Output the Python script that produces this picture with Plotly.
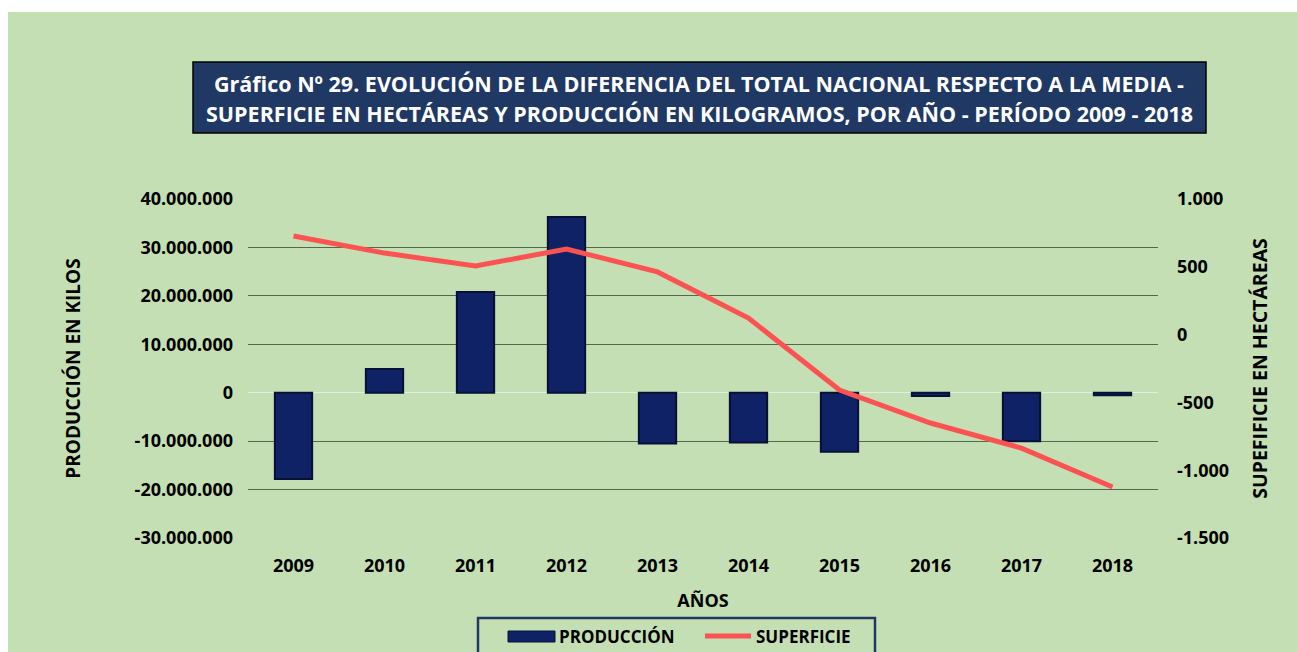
import plotly.graph_objects as go

# data
years = ["2009", "2010", "2011", "2012", "2013", "2014", "2015", "2016", "2017", "2018"]
produccion = [-17800000, 4900000, 20800000, 36300000, -10500000, -10300000, -12200000, -700000, -10000000, -500000]
superficie = [727, 601, 506, 631, 462, 122, -409, -652, -837, -1124]

left_ticks = [-30000000, -20000000, -10000000, 0, 10000000, 20000000, 30000000, 40000000]
left_labels = ["-30.000.000", "-20.000.000", "-10.000.000", "0", "10.000.000", "20.000.000", "30.000.000", "40.000.000"]
right_ticks = [-1500, -1000, -500, 0, 500, 1000]
right_labels = ["-1.500", "-1.000", "-500", "0", "500", "1.000"]

title_1 = "Gráfico Nº 29. EVOLUCIÓN DE LA DIFERENCIA DEL TOTAL NACIONAL RESPECTO A LA MEDIA -"
title_2 = "SUPERFICIE EN HECTÁREAS Y PRODUCCIÓN EN KILOGRAMOS, POR AÑO - PERÍODO 2009 - 2018"

GREEN = "#c5dfb4"
NAVY = "#1f3864"
BAR = "#102266"
BAR_EDGE = "#071036"
RED = "#fc5252"
FONT = "Open Sans"

fig = go.Figure()

fig.add_trace(go.Bar(
    x=years, y=produccion, name="PRODUCCIÓN",
    marker=dict(color=BAR, line=dict(color=BAR_EDGE, width=2)),
    width=0.41
))

fig.add_trace(go.Scatter(
    x=years, y=superficie, name="SUPERFICIE", yaxis="y2",
    mode="lines", line=dict(color=RED, width=5)
))

# plot area in pixels: x 248..1158, y 199..538
W, H = 1297, 652
L, R, T, B = 248, 1158, 199, 538
def px(x):
    return (x - L) / (R - L)
def py(y):
    return (B - y) / (B - T)

shapes = [
    # white strips at top and left edge
    dict(type="rect", xref="paper", yref="paper", x0=px(-5), x1=px(W + 5), y0=py(12), y1=py(-5),
         fillcolor="white", line=dict(width=0), layer="below"),
    dict(type="rect", xref="paper", yref="paper", x0=px(-5), x1=px(8), y0=py(H + 5), y1=py(-5),
         fillcolor="white", line=dict(width=0), layer="below"),
    # title box
    dict(type="rect", xref="paper", yref="paper", x0=px(193), x1=px(1206), y0=py(133), y1=py(62),
         fillcolor=NAVY, line=dict(color="black", width=1.5)),
    # legend box and swatches
    dict(type="rect", xref="paper", yref="paper", x0=px(478), x1=px(875), y0=py(662), y1=py(618),
         fillcolor=GREEN, line=dict(color=NAVY, width=2.5)),
    dict(type="rect", xref="paper", yref="paper", x0=px(508), x1=px(555), y0=py(642), y1=py(631),
         fillcolor=BAR, line=dict(color=BAR_EDGE, width=1)),
    dict(type="line", xref="paper", yref="paper", x0=px(705), x1=px(751), y0=py(636), y1=py(636),
         line=dict(color=RED, width=5)),
]

annotations = [
    dict(text="<b>%s</b>" % title_1, xref="paper", yref="paper", x=px(699), y=py(83),
         yanchor="middle", showarrow=False, font=dict(family=FONT, size=21.5, color="white")),
    dict(text="<b>%s</b>" % title_2, xref="paper", yref="paper", x=px(699), y=py(114),
         yanchor="middle", showarrow=False, font=dict(family=FONT, size=21.5, color="white")),
    dict(text="<b>PRODUCCIÓN</b>", xref="paper", yref="paper", x=px(557), y=py(636),
         xanchor="left", yanchor="middle", showarrow=False, font=dict(family=FONT, size=17, color="black")),
    dict(text="<b>SUPERFICIE</b>", xref="paper", yref="paper", x=px(754), y=py(636),
         xanchor="left", yanchor="middle", showarrow=False, font=dict(family=FONT, size=17, color="black")),
]

fig.update_layout(
    width=W, height=H,
    margin=dict(l=L, r=W - R, t=T, b=H - B, autoexpand=False),
    paper_bgcolor=GREEN,
    plot_bgcolor="rgba(0,0,0,0)",
    font=dict(family=FONT, color="black"),
    showlegend=False,
    xaxis=dict(
        title=dict(text="<b>AÑOS</b>", font=dict(size=18), standoff=18),
        tickfont=dict(size=18),
        ticktext=["<b>%s</b>" % y for y in years], tickvals=years,
        showgrid=False, showline=False, ticks="", ticklabelstandoff=15,
    ),
    yaxis=dict(
        range=[-30000000, 40000000],
        tickvals=left_ticks, ticktext=["<b>%s</b>" % t for t in left_labels],
        tickfont=dict(size=18),
        showgrid=True, gridcolor="#56684c", gridwidth=1,
        zeroline=True, zerolinecolor="#e4eedc", zerolinewidth=1,
        showline=False, ticks="", ticklabelstandoff=14,
        title=dict(text="<b>PRODUCCIÓN EN KILOS</b>", font=dict(size=19), standoff=48),
    ),
    yaxis2=dict(
        overlaying="y", side="right",
        range=[-1500, 1000],
        tickvals=right_ticks, ticktext=["<b>%s</b>" % t for t in right_labels],
        tickfont=dict(size=18),
        showgrid=False, zeroline=False, showline=False, ticks="", ticklabelstandoff=18,
        title=dict(text="<b>SUPEFIFICIE EN HECTÁREAS</b>", font=dict(size=19.5), standoff=25),
    ),
    shapes=shapes,
    annotations=annotations,
)

fig.write_html("out.html", config={"displayModeBar": False},
               post_script="document.body.style.margin='0px';")
